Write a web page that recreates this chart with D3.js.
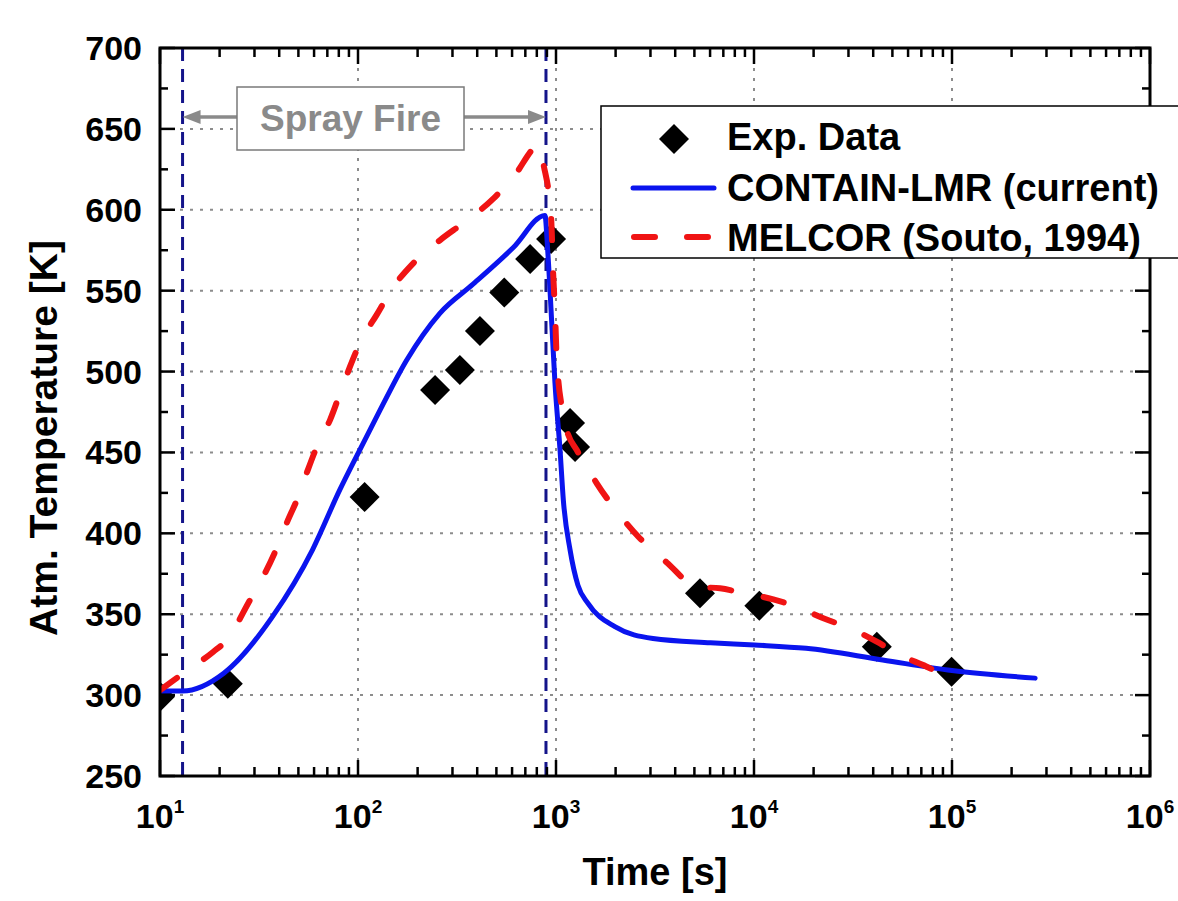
<!DOCTYPE html>
<html>
<head>
<meta charset="utf-8">
<script src="https://cdn.jsdelivr.net/npm/d3@7"></script>
<style>
  html, body { margin: 0; padding: 0; background: #fff; }
  svg { display: block; font-family: "Liberation Sans", Arial, sans-serif; font-weight: bold; }
</style>
</head>
<body>
<svg id="chart" width="1178" height="901"></svg>
<script>
// ---- data ----
const expTime = [10, 22, 108, 245, 327, 413, 548, 740, 944, 1178, 1248, 5335, 10640, 41700, 99500];
const expTemp = [299, 307, 422.4, 488.6, 500.9, 525, 548.8, 569.5, 581.9, 468.2, 453.3, 362.9, 355.3, 329.9, 314.5];

const containTime = [10, 13, 21, 37, 59, 81, 102, 129, 176, 259, 381, 607, 879, 908, 948, 988, 1048, 1089, 1178, 1290, 1451, 1983, 3090, 6030, 10070, 18340, 44650, 100000, 263000];
const containTemp = [302.5, 302.5, 313.5, 348.5, 390, 427, 451.5, 476, 507, 536, 554, 576.5, 596.5, 575, 534, 493, 451.5, 420.6, 389.7, 368, 356.7, 342.3, 335, 332.4, 331, 328.9, 321.7, 315.2, 310.5];

const melcorTime = [10, 13.1, 18.6, 21.7, 28.5, 33.2, 38.8, 43.6, 49.9, 55, 63, 72.2, 81.1, 91.1, 104, 124, 151, 190, 260, 347, 484, 618, 826, 863, 944, 968, 990, 1007, 1027, 1069, 1133, 1273, 1430, 1606, 2066, 2606, 3625, 5140, 6730, 9010, 12510, 16430, 22400, 30540, 41690, 54600, 77400, 99600];
const melcorTemp = [303, 313.5, 326.8, 334, 358.8, 373.2, 390.7, 406.2, 422.7, 437.1, 455.6, 470, 486.5, 503, 519.5, 534.9, 552.4, 566.9, 581.3, 592.6, 607, 621.4, 640, 628.6, 595.7, 560, 535, 509.2, 494.7, 478.3, 463.9, 451.5, 441.2, 430.9, 412.4, 397.9, 382, 367, 366, 362.9, 359.2, 354.6, 347.5, 341.3, 333, 324.8, 316.6, 309.3];

const sprayStart = 13;
const sprayEnd = 890;

const xDecades = [1e1, 1e2, 1e3, 1e4, 1e5, 1e6];
const xDecadeExp = ["1", "2", "3", "4", "5", "6"];
const yTicks = [250, 300, 350, 400, 450, 500, 550, 600, 650, 700];

const seriesNames = ["Exp. Data", "CONTAIN-LMR (current)", "MELCOR (Souto, 1994)"];

// ---- layout ----
const L = 160, R = 1150, T = 48, B = 776;
const svg = d3.select("#chart");

const x = d3.scaleLog().domain([10, 1e6]).range([L, R]);
const y = d3.scaleLinear().domain([250, 700]).range([B, T]);

const blue = "#0a14ee", red = "#f01414", navy = "#14148a", gray = "#8a8a8a";

svg.append("defs").append("clipPath").attr("id", "plotclip")
  .append("rect").attr("x", L).attr("y", T).attr("width", R - L).attr("height", B - T);

// grid
const grid = svg.append("g");
grid.selectAll("line.gx").data(xDecades.slice(1, -1)).join("line")
  .attr("x1", d => x(d)).attr("x2", d => x(d)).attr("y1", T).attr("y2", B)
  .attr("stroke", "#8c8c8c").attr("stroke-width", 2).attr("stroke-dasharray", "3,7");
grid.selectAll("line.gy").data(yTicks.slice(1, -1)).join("line")
  .attr("x1", L).attr("x2", R).attr("y1", d => y(d)).attr("y2", d => y(d))
  .attr("stroke", "#8c8c8c").attr("stroke-width", 2).attr("stroke-dasharray", "3,7");

// spray fire bounds
svg.append("g").selectAll("line").data([sprayStart, sprayEnd]).join("line")
  .attr("x1", d => x(d)).attr("x2", d => x(d)).attr("y1", T).attr("y2", B)
  .attr("stroke", navy).attr("stroke-width", 3).attr("stroke-dasharray", "13,8");

const plot = svg.append("g").attr("clip-path", "url(#plotclip)");

// exp diamonds
const dia = "M0,-15L15,0L0,15L-15,0Z";
plot.selectAll("path.exp").data(expTime.map((t, i) => [t, expTemp[i]])).join("path")
  .attr("d", dia).attr("transform", d => `translate(${x(d[0])},${y(d[1])})`).attr("fill", "#000");

const line = d3.line().x(d => x(d[0])).y(d => y(d[1])).curve(d3.curveMonotoneX);
plot.append("path").datum(containTime.map((t, i) => [t, containTemp[i]]))
  .attr("d", line).attr("fill", "none").attr("stroke", blue).attr("stroke-width", 5)
  .attr("stroke-linejoin", "round").attr("stroke-linecap", "round");
plot.append("path").datum(melcorTime.map((t, i) => [t, melcorTemp[i]]))
  .attr("d", line).attr("fill", "none").attr("stroke", red).attr("stroke-width", 6)
  .attr("stroke-dasharray", "21,33").attr("stroke-linecap", "round");

// axes frame
const axes = svg.append("g");
axes.append("rect").attr("x", L).attr("y", T).attr("width", R - L).attr("height", B - T)
  .attr("fill", "none").attr("stroke", "#000").attr("stroke-width", 3);

// x ticks (major + minor), bottom and top, inward
const xMinor = [];
xDecades.slice(0, -1).forEach(d => { for (let k = 2; k <= 9; k++) xMinor.push(d * k); });
[[B, -1], [T, 1]].forEach(([yy, dir]) => {
  axes.append("g").selectAll("line").data(xDecades).join("line")
    .attr("x1", d => x(d)).attr("x2", d => x(d)).attr("y1", yy).attr("y2", yy + dir * 16)
    .attr("stroke", "#000").attr("stroke-width", 2.5);
  axes.append("g").selectAll("line").data(xMinor).join("line")
    .attr("x1", d => x(d)).attr("x2", d => x(d)).attr("y1", yy).attr("y2", yy + dir * 9)
    .attr("stroke", "#000").attr("stroke-width", 2.5);
});
// y ticks left and right, inward
const yMinor = yTicks.slice(0, -1).map(v => v + 25);
[[L, 1], [R, -1]].forEach(([xx, dir]) => {
  axes.append("g").selectAll("line").data(yTicks).join("line")
    .attr("x1", xx).attr("x2", xx + dir * 15).attr("y1", d => y(d)).attr("y2", d => y(d))
    .attr("stroke", "#000").attr("stroke-width", 2.5);
  axes.append("g").selectAll("line").data(yMinor).join("line")
    .attr("x1", xx).attr("x2", xx + dir * 8).attr("y1", d => y(d)).attr("y2", d => y(d))
    .attr("stroke", "#000").attr("stroke-width", 2.5);
});

// y tick labels
axes.append("g").selectAll("text").data(yTicks).join("text")
  .attr("x", L - 18).attr("y", d => y(d) + 12).attr("text-anchor", "end")
  .attr("font-size", 34).attr("fill", "#000").text(d => d);

// x tick labels 10^n
const xl = axes.append("g").selectAll("text").data(xDecades).join("text")
  .attr("x", d => x(d)).attr("y", 828).attr("text-anchor", "middle")
  .attr("font-size", 34).attr("fill", "#000");
xl.append("tspan").text("10");
xl.append("tspan").attr("dy", -15).attr("font-size", 19).text((d, i) => xDecadeExp[i]);

// axis titles
svg.append("text").attr("x", 655).attr("y", 885).attr("text-anchor", "middle")
  .attr("font-size", 38).attr("fill", "#000").text("Time [s]");
svg.append("text").attr("transform", "translate(57,438) rotate(-90)").attr("text-anchor", "middle")
  .attr("font-size", 39).attr("fill", "#000").text("Atm. Temperature [K]");

// spray fire annotation
const ann = svg.append("g");
const ay = 117;
ann.append("line").attr("x1", 237).attr("x2", x(sprayStart) + 14).attr("y1", ay).attr("y2", ay)
  .attr("stroke", gray).attr("stroke-width", 3.5);
ann.append("line").attr("x1", 464).attr("x2", x(sprayEnd) - 14).attr("y1", ay).attr("y2", ay)
  .attr("stroke", gray).attr("stroke-width", 3.5);
ann.append("path").attr("d", `M${x(sprayStart)},${ay}l18,-7l0,14z`).attr("fill", gray);
ann.append("path").attr("d", `M${x(sprayEnd)},${ay}l-18,-7l0,14z`).attr("fill", gray);
ann.append("rect").attr("x", 237).attr("y", 87).attr("width", 227).attr("height", 63)
  .attr("fill", "#fff").attr("stroke", "#7a7a7a").attr("stroke-width", 1.5);
ann.append("text").attr("x", 350.5).attr("y", 131).attr("text-anchor", "middle")
  .attr("font-size", 37).attr("fill", gray).text("Spray Fire");

// legend
const lg = svg.append("g");
lg.append("rect").attr("x", 601).attr("y", 106).attr("width", 620).attr("height", 152)
  .attr("fill", "#fff").attr("stroke", "#000").attr("stroke-width", 1.5);
lg.append("path").attr("d", dia).attr("transform", "translate(674,139)").attr("fill", "#000");
lg.append("line").attr("x1", 633).attr("x2", 714).attr("y1", 188).attr("y2", 188)
  .attr("stroke", blue).attr("stroke-width", 5).attr("stroke-linecap", "round");
lg.append("line").attr("x1", 634).attr("x2", 712).attr("y1", 237).attr("y2", 237)
  .attr("stroke", red).attr("stroke-width", 6).attr("stroke-dasharray", "21,32").attr("stroke-linecap", "round");
lg.selectAll("text").data(seriesNames).join("text")
  .attr("x", 727).attr("y", (d, i) => [150, 201, 251][i])
  .attr("font-size", 38).attr("fill", "#000").text(d => d);
</script>
</body>
</html>
